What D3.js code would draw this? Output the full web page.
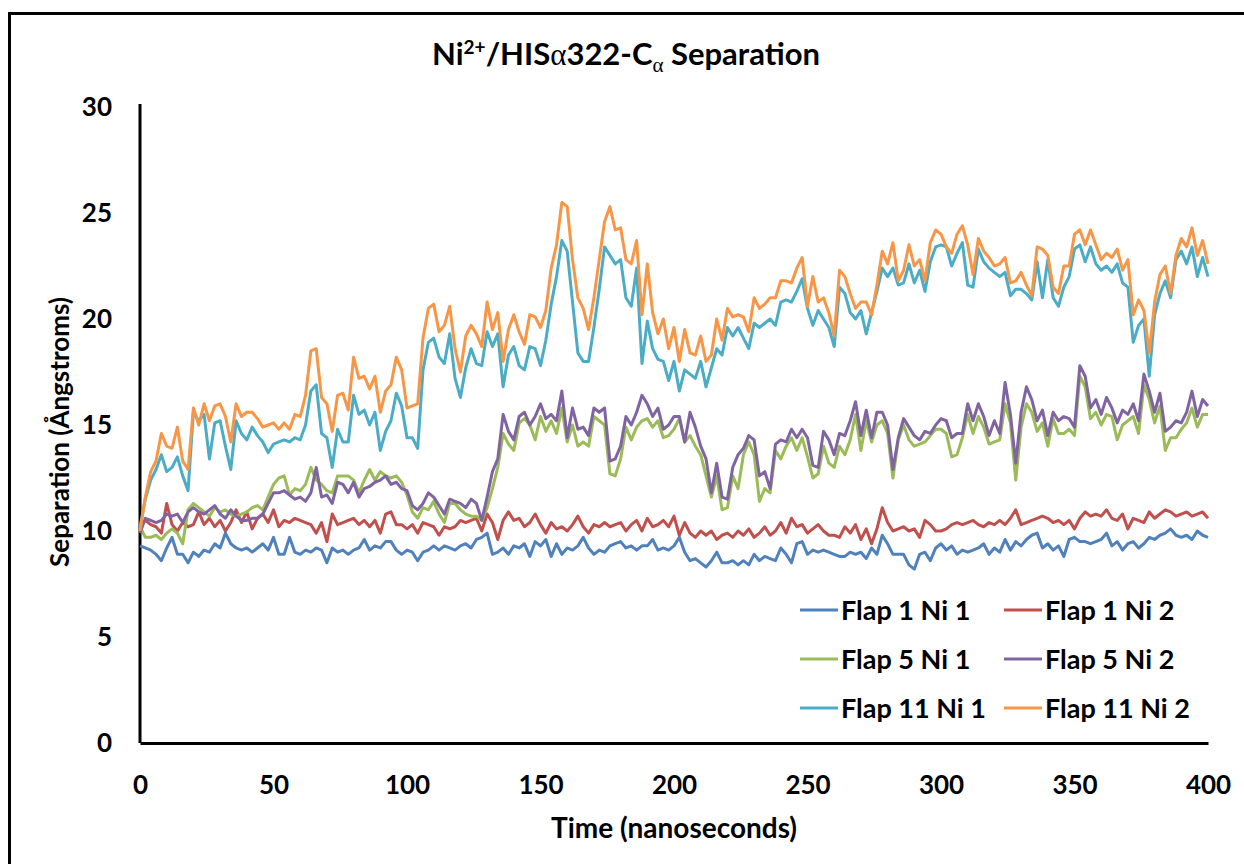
<!DOCTYPE html>
<html>
<head>
<meta charset="utf-8">
<title>Ni/HIS separation</title>
<style>
body { margin: 0; background: #fff; }
text { font-family: Lato, "Open Sans", sans-serif; font-weight: bold; fill: #000; }
</style>
</head>
<body>
<script src="https://cdn.jsdelivr.net/npm/d3@7/dist/d3.min.js"></script>
<script>
// DATA - one sample every 2 ns, 0..400
var step = 2;

var flap1Ni1 = [
  9.3, 9.2, 9.1, 8.9, 8.6, 9.2, 9.7, 8.9, 8.9, 8.5,
  9.0, 8.8, 9.1, 9.0, 9.4, 9.2, 9.9, 9.4, 9.2, 9.1,
  9.2, 9.0, 9.2, 9.4, 9.1, 9.7, 8.9, 8.9, 9.7, 9.0,
  8.9, 9.1, 9.0, 9.2, 9.1, 8.5, 9.2, 9.0, 9.1, 8.9,
  9.1, 9.2, 9.6, 9.1, 9.3, 9.2, 9.5, 9.5, 9.1, 8.9,
  9.1, 9.0, 8.6, 9.0, 9.1, 9.3, 9.1, 9.3, 9.2, 9.1,
  9.3, 9.4, 9.2, 9.6, 9.7, 9.9, 8.9, 9.0, 9.2, 8.9,
  9.3, 9.2, 9.4, 8.8, 9.5, 9.3, 9.6, 8.8, 9.4, 8.9,
  9.2, 9.1, 9.3, 9.7, 9.2, 8.9, 9.1, 9.0, 9.3, 9.4,
  9.5, 9.2, 9.3, 9.1, 9.3, 9.3, 9.6, 9.1, 9.2, 9.1,
  9.3, 9.7, 9.0, 8.6, 8.7, 8.5, 8.3, 8.6, 9.0, 8.5,
  8.5, 8.6, 8.4, 8.6, 8.4, 8.9, 8.6, 8.8, 8.7, 8.6,
  9.2, 8.9, 8.5, 9.4, 9.5, 8.9, 9.1, 9.0, 9.1, 9.0,
  8.9, 8.8, 8.8, 9.0, 8.9, 9.0, 8.7, 9.2, 8.9, 9.8,
  9.4, 8.9, 8.9, 8.9, 8.4, 8.2, 8.9, 9.0, 8.6, 9.2,
  9.4, 9.1, 9.3, 8.9, 9.1, 9.0, 9.1, 9.2, 9.4, 8.9,
  9.2, 9.0, 9.6, 9.1, 9.5, 9.3, 9.6, 9.8, 9.9, 9.2,
  9.4, 9.1, 9.3, 8.8, 9.6, 9.7, 9.5, 9.5, 9.4, 9.5,
  9.6, 9.9, 9.3, 9.5, 9.1, 9.4, 9.5, 9.2, 9.4, 9.7,
  9.6, 9.8, 9.9, 10.1, 9.8, 9.7, 9.8, 9.6, 10.0, 9.8,
  9.7
];

var flap1Ni2 = [
  10.2, 10.5, 10.3, 10.2, 9.9, 11.3, 10.3, 10.0, 10.4, 10.2,
  10.3, 10.9, 10.3, 10.6, 10.2, 10.5, 10.0, 10.4, 11.0, 10.4,
  10.9, 10.1, 10.6, 10.8, 10.4, 11.0, 10.2, 10.5, 10.4, 10.6,
  10.5, 10.4, 10.3, 9.9, 10.4, 9.5, 10.8, 10.3, 10.4, 10.5,
  10.6, 10.3, 10.5, 10.2, 10.5, 9.9, 10.8, 10.9, 10.3, 10.3,
  10.1, 10.3, 9.9, 10.4, 10.3, 10.2, 9.8, 10.2, 10.1, 10.2,
  10.5, 10.4, 10.5, 10.6, 10.0, 10.8, 10.4, 9.6, 10.5, 10.9,
  10.5, 10.6, 10.2, 10.4, 10.8, 10.3, 9.9, 10.4, 10.1, 10.2,
  10.0, 10.3, 10.7, 10.2, 9.9, 10.3, 10.2, 10.4, 10.2, 10.3,
  10.4, 10.0, 10.3, 10.5, 10.0, 10.6, 10.2, 10.3, 10.5, 10.2,
  10.7, 9.8, 10.4, 9.9, 9.7, 10.0, 9.8, 10.0, 9.6, 9.8,
  9.9, 9.7, 10.0, 9.8, 10.1, 9.7, 9.9, 10.2, 9.8, 10.0,
  10.4, 9.9, 10.6, 10.2, 10.3, 9.9, 10.1, 10.3, 10.0, 9.8,
  9.8, 9.7, 10.2, 9.9, 10.3, 9.6, 10.1, 9.4, 10.1, 11.1,
  10.4, 10.0, 10.1, 10.2, 10.0, 10.1, 9.7, 10.5, 10.3, 10.0,
  10.0, 10.1, 10.3, 10.4, 10.3, 10.4, 10.5, 10.3, 10.2, 10.4,
  10.3, 10.5, 10.3, 10.6, 11.0, 10.3, 10.4, 10.5, 10.6, 10.7,
  10.6, 10.4, 10.5, 10.3, 10.5, 10.1, 10.6, 10.9, 10.7, 10.8,
  10.7, 11.0, 10.6, 10.5, 10.8, 10.1, 10.6, 10.5, 10.4, 10.9,
  10.6, 10.8, 11.0, 10.9, 10.7, 10.8, 10.9, 10.7, 10.8, 10.9,
  10.6
];

var flap5Ni1 = [
  10.2, 9.7, 9.7, 9.8, 9.6, 9.9, 10.1, 9.9, 9.4, 11.0,
  11.3, 11.1, 10.9, 10.7, 11.1, 10.9, 11.0, 10.8, 10.7, 10.8,
  10.9, 11.1, 11.2, 11.0, 11.6, 12.2, 12.5, 12.6, 11.7, 12.0,
  11.9, 12.2, 13.0, 12.4, 12.2, 11.9, 11.8, 12.6, 12.6, 12.6,
  12.4, 11.8, 12.4, 12.9, 12.4, 12.8, 12.6, 12.5, 12.6, 12.3,
  11.7, 10.9, 10.6, 11.1, 11.0, 11.4, 10.8, 10.4, 11.3, 11.3,
  11.0, 10.8, 10.7, 10.7, 10.5, 11.1, 12.0, 13.0, 14.6, 14.1,
  13.8, 15.1, 15.3, 15.0, 14.3, 15.4, 14.7, 15.2, 14.6, 15.8,
  14.2, 15.0, 14.0, 14.2, 14.0, 15.4, 15.2, 15.0, 12.7, 12.6,
  13.4, 14.9, 14.3, 14.9, 15.2, 15.3, 14.9, 15.2, 14.4, 14.5,
  14.8, 15.3, 14.2, 14.5, 14.0, 13.6, 12.6, 11.6, 12.6, 11.0,
  11.1, 12.6, 12.0, 13.6, 14.2, 13.6, 11.4, 12.0, 11.8, 13.8,
  13.4, 14.0, 14.4, 13.8, 14.4, 13.5, 12.5, 12.7, 14.0, 13.2,
  13.0, 14.0, 13.6, 14.3, 15.5, 13.8, 15.2, 14.2, 15.0, 15.2,
  14.6, 12.5, 14.3, 15.0, 14.3, 14.0, 14.1, 14.2, 14.5, 14.8,
  14.8, 14.6, 13.5, 13.6, 14.4, 15.5, 14.6, 15.4, 14.9, 14.1,
  14.2, 14.3, 16.0, 15.1, 12.4, 14.9, 16.0, 15.6, 14.7, 15.1,
  14.0, 15.3, 14.6, 14.6, 14.8, 14.5, 17.3, 16.8, 15.3, 15.6,
  15.0, 15.5, 15.4, 14.3, 15.0, 15.2, 15.4, 14.6, 16.9, 16.2,
  15.1, 15.9, 13.8, 14.4, 14.4, 14.8, 15.1, 15.8, 14.9, 15.5,
  15.5
];

var flap5Ni2 = [
  9.9, 10.6, 10.5, 10.4, 10.5, 10.8, 10.7, 10.8, 10.4, 10.9,
  11.1, 10.9, 10.8, 11.0, 11.2, 10.8, 10.6, 11.0, 10.7, 10.5,
  10.5, 10.6, 10.6, 10.8, 11.3, 11.8, 11.8, 11.9, 11.7, 11.5,
  11.6, 11.4, 11.8, 13.0, 11.6, 11.7, 11.3, 12.3, 12.2, 11.8,
  12.3, 11.6, 12.0, 12.1, 12.3, 12.4, 12.6, 12.2, 12.3, 12.0,
  11.9, 11.2, 11.0, 11.3, 11.8, 11.6, 11.2, 10.8, 11.5, 11.4,
  11.3, 11.1, 11.5, 11.3, 10.5, 11.6, 12.8, 13.4, 15.5, 14.7,
  14.3, 15.4, 15.6, 15.0, 15.4, 16.0, 15.3, 15.5, 15.2, 16.6,
  14.4, 15.8, 14.8, 14.9, 14.5, 15.8, 15.6, 15.8, 13.3, 13.4,
  14.0, 15.4, 15.0, 15.6, 16.4, 16.0, 15.4, 15.8, 14.8, 15.0,
  15.4, 15.4, 14.2, 15.6, 14.9, 14.0, 13.4, 11.8, 13.2, 11.6,
  11.5, 13.0, 13.6, 13.9, 14.5, 14.3, 12.6, 12.8, 12.0, 14.1,
  14.3, 14.2, 14.8, 14.4, 14.8, 14.4, 13.1, 13.0, 14.7, 14.3,
  13.6, 14.6, 14.5, 15.2, 16.1, 14.5, 15.7, 14.4, 15.6, 15.6,
  15.0, 12.9, 14.4, 15.3, 14.9, 14.5, 14.3, 14.7, 14.6, 15.0,
  15.3, 15.2, 14.4, 14.6, 14.6, 16.0, 15.2, 16.0, 15.4, 14.5,
  15.2, 14.6, 17.0, 15.5, 13.2, 15.6, 16.8, 16.2, 15.2, 15.7,
  14.5, 15.6, 15.2, 15.4, 15.3, 14.9, 17.8, 17.3, 15.8, 16.2,
  15.5, 16.3, 15.8, 15.1, 15.7, 15.5, 16.0, 15.2, 17.4, 16.6,
  15.6, 16.5, 14.7, 14.9, 15.2, 15.1, 15.6, 16.6, 15.4, 16.2,
  15.9
];

var flap11Ni1 = [
  10.2, 11.5, 12.4, 12.9, 13.6, 12.8, 13.0, 13.5, 12.6, 11.9,
  15.6, 15.2, 15.5, 13.4, 15.1, 15.2, 14.0, 12.9, 15.2, 14.6,
  14.3, 14.9, 14.5, 14.2, 13.7, 14.1, 14.2, 14.3, 14.2, 14.4,
  14.3, 15.0, 16.6, 16.9, 14.6, 14.4, 13.0, 14.8, 14.2, 14.2,
  16.4, 15.5, 15.7, 15.0, 15.6, 13.8, 14.7, 15.2, 16.5, 15.9,
  14.4, 14.4, 13.9, 17.6, 18.9, 19.1, 18.2, 17.9, 19.3, 17.2,
  16.3, 17.7, 18.6, 17.9, 17.8, 19.4, 18.7, 19.3, 16.8, 18.3,
  18.7, 17.8, 17.6, 18.7, 18.6, 17.8, 19.0, 20.7, 22.0, 23.7,
  23.2, 20.8, 18.4, 18.0, 18.0, 19.6, 21.4, 23.4, 23.0, 22.6,
  22.8, 21.0, 20.6, 22.4, 17.9, 19.9, 18.6, 18.1, 18.0, 17.1,
  18.0, 16.6, 17.6, 17.4, 17.2, 18.0, 16.8, 17.7, 18.6, 18.3,
  19.6, 19.2, 19.6, 19.1, 18.6, 19.8, 19.6, 19.8, 20.0, 19.7,
  20.8, 20.9, 20.8, 21.3, 21.9, 20.5, 19.7, 20.4, 20.0, 19.6,
  18.7, 21.5, 21.2, 20.3, 20.0, 20.4, 19.3, 20.3, 21.3, 22.4,
  22.0, 22.4, 21.6, 21.7, 22.6, 21.7, 22.3, 21.3, 22.7, 23.4,
  23.5, 23.4, 22.5, 23.1, 23.6, 21.6, 21.5, 23.3, 22.7, 22.4,
  22.2, 22.0, 22.2, 21.1, 21.4, 21.4, 21.2, 20.9, 22.7, 21.0,
  22.8, 21.0, 20.6, 21.5, 22.0, 23.3, 23.5, 22.7, 23.4, 22.6,
  22.3, 22.5, 22.2, 22.6, 21.7, 21.5, 18.9, 19.7, 20.0, 17.3,
  20.2, 21.2, 21.8, 21.0, 22.8, 23.2, 22.6, 23.4, 22.0, 22.9,
  22.0
];

var flap11Ni2 = [
  10.0, 11.6, 12.8, 13.3, 14.6, 14.0, 13.9, 14.9, 13.3, 12.9,
  15.8, 15.0, 16.0, 15.2, 15.9, 16.0, 15.4, 14.2, 16.0, 15.4,
  15.6, 15.6, 15.3, 14.9, 15.0, 15.1, 14.8, 15.1, 14.8, 15.5,
  15.4, 16.4, 18.5, 18.6, 16.3, 16.0, 14.7, 16.4, 16.5, 15.7,
  18.2, 17.2, 17.3, 16.7, 17.3, 15.6, 16.6, 16.9, 18.2, 17.6,
  15.8, 15.9, 16.0, 19.1, 20.5, 20.7, 19.4, 19.7, 20.6, 18.6,
  17.5, 19.2, 19.7, 19.3, 18.7, 20.8, 19.5, 20.3, 18.0, 19.5,
  20.2, 19.4, 18.8, 20.2, 20.1, 19.6, 20.4, 22.4, 23.5, 25.5,
  25.3, 22.8, 21.0, 20.5, 19.5, 21.0, 22.8, 24.6, 25.3, 24.2,
  24.3, 22.8, 22.6, 23.7, 20.2, 22.6, 20.3, 19.3, 20.0, 18.6,
  19.6, 18.0, 19.5, 18.4, 18.3, 19.2, 18.0, 18.3, 20.0, 19.0,
  20.5, 20.1, 20.2, 20.1, 19.4, 21.0, 20.5, 20.7, 21.0, 21.0,
  21.8, 21.8, 21.7, 22.4, 22.9, 20.6, 22.0, 20.8, 21.0, 20.3,
  19.2, 22.3, 22.0, 21.2, 20.5, 20.8, 20.8, 20.2, 21.6, 23.2,
  22.6, 23.6, 21.8, 22.3, 23.5, 22.5, 22.8, 21.8, 23.6, 24.2,
  24.0, 23.4, 23.1, 24.0, 24.4, 23.5, 22.1, 23.8, 23.2, 22.9,
  22.5, 22.6, 22.9, 21.7, 21.8, 22.2, 21.6, 21.1, 23.4, 23.3,
  23.0, 21.5, 21.2, 22.5, 22.5, 24.0, 24.2, 23.5, 24.2, 23.5,
  22.8, 23.1, 22.9, 23.3, 22.3, 22.8, 20.2, 20.9, 20.4, 18.4,
  20.8, 22.1, 22.5, 21.2, 23.0, 23.8, 23.4, 24.3, 23.0, 23.7,
  22.6
];

var seriesNames = ["Flap 1 Ni 1", "Flap 1 Ni 2", "Flap 5 Ni 1", "Flap 5 Ni 2", "Flap 11 Ni 1", "Flap 11 Ni 2"];
var seriesValues = [flap1Ni1, flap1Ni2, flap5Ni1, flap5Ni2, flap11Ni1, flap11Ni2];
var seriesColors = ["#4F81BD", "#C0504D", "#9BBB59", "#8064A2", "#4BACC6", "#F79646"];
var xTicks = [0, 50, 100, 150, 200, 250, 300, 350, 400];
var yTicks = [0, 5, 10, 15, 20, 25, 30];

var W = 1244, H = 864;
var plot = {left: 140, right: 1208, top: 107, bottom: 743};

var x = d3.scaleLinear().domain([0, 400]).range([plot.left, plot.right]);
var y = d3.scaleLinear().domain([0, 30]).range([plot.bottom, plot.top]);

var svg = d3.select("body").append("svg")
  .attr("width", W)
  .attr("height", H);

svg.append("rect").attr("width", W).attr("height", H).attr("fill", "#fff");

// chart area border (runs off the right and bottom of the frame)
svg.append("rect")
  .attr("x", 9.5).attr("y", 13.5)
  .attr("width", W + 40).attr("height", H + 40)
  .attr("fill", "none")
  .attr("stroke", "#000")
  .attr("stroke-width", 3);

// title
var serif = "'Liberation Serif', 'DejaVu Serif', serif";
var title = svg.append("text")
  .attr("x", 626).attr("y", 65)
  .attr("text-anchor", "middle")
  .style("font-size", "31px");
title.append("tspan").text("Ni");
title.append("tspan").attr("dy", -11).style("font-size", "19px").text("2+");
title.append("tspan").attr("dy", 11).text("/HIS");
title.append("tspan").style("font-family", serif).style("font-weight", "normal").text("\u03B1");
title.append("tspan").text("322-C");
title.append("tspan").attr("dy", 7).style("font-size", "21px")
  .style("font-family", serif).style("font-weight", "normal").text("\u03B1");
title.append("tspan").attr("dy", -7).text(" Separation");

// axes
var xAxis = d3.axisBottom(x).tickValues(xTicks).tickSize(0).tickPadding(33);
var yAxis = d3.axisLeft(y).tickValues(yTicks).tickSize(0).tickPadding(28);

var gx = svg.append("g")
  .attr("transform", "translate(0," + plot.bottom + ")")
  .call(xAxis);
var gy = svg.append("g")
  .attr("transform", "translate(" + plot.left + ",0)")
  .call(yAxis);

[gx, gy].forEach(function(g) {
  g.select(".domain").attr("stroke", "#000").attr("stroke-width", 3);
  g.selectAll("text")
    .style("font-size", "26px")
    .style("font-family", "Lato, 'Open Sans', sans-serif")
    .style("font-weight", "bold")
    .attr("fill", "#000");
});
gy.select(".domain").attr("d", "M0," + (plot.top - 3) + "V" + plot.bottom);

svg.append("text")
  .attr("x", 674).attr("y", 838)
  .attr("text-anchor", "middle")
  .style("font-size", "28px")
  .text("Time (nanoseconds)");

svg.append("text")
  .attr("transform", "translate(69,432) rotate(-90)")
  .attr("text-anchor", "middle")
  .style("font-size", "26px")
  .text("Separation (\u00C5ngstroms)");

// lines
var line = d3.line()
  .x(function(d, i) { return x(i * step); })
  .y(function(d) { return y(d); });

svg.selectAll("path.series")
  .data(seriesValues)
  .enter().append("path")
  .attr("class", "series")
  .attr("d", line)
  .attr("fill", "none")
  .attr("stroke", function(d, i) { return seriesColors[i]; })
  .attr("stroke-width", 3)
  .attr("stroke-linejoin", "round");

// legend, two columns
var legend = svg.selectAll("g.legend")
  .data(seriesNames)
  .enter().append("g")
  .attr("class", "legend")
  .attr("transform", function(d, i) {
    return "translate(" + (i % 2 == 0 ? 800 : 1004) + "," + (610 + Math.floor(i / 2) * 49) + ")";
  });

legend.append("line")
  .attr("x1", 0).attr("x2", 38)
  .attr("stroke", function(d, i) { return seriesColors[i]; })
  .attr("stroke-width", 3);

legend.append("text")
  .attr("x", 41).attr("y", 10)
  .style("font-size", "27px")
  .text(function(d) { return d; });
</script>
</body>
</html>
